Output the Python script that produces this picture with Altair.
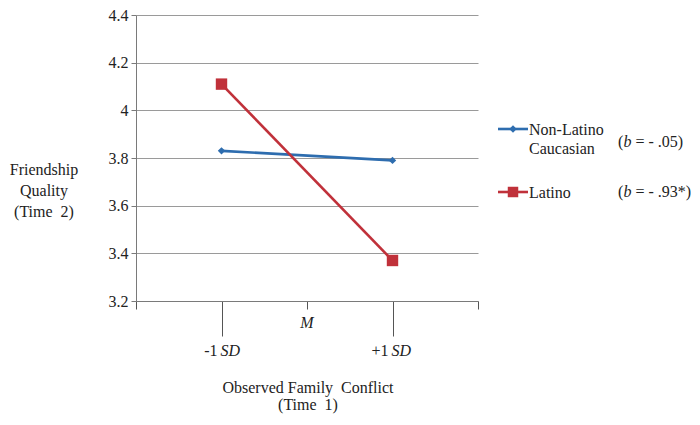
import altair as alt
import pandas as pd

# ---- data ----
levels = ["-1", "+1"]            # conflict levels (-1 SD, +1 SD)
level_pos = [1, 3]               # positions on the 0..4 category axis
mean_pos = [2]
groups = ["Non-Latino Caucasian", "Latino"]
legend_text = ["Non-Latino\nCaucasian", "Latino"]
nonlatino_vals = [3.83, 3.79]
latino_vals = [4.11, 3.37]
colors = ["#2E6DAF", "#C0313A"]
shapes = ["diamond", "square"]
b_labels = ["= - .05)", "= - .93*)"]
y_ticks = [3.2, 3.4, 3.6, 3.8, 4.0, 4.2, 4.4]
x_ticks = [0, 1, 2, 3, 4]

FONT = "Liberation Serif"
FS = 16
TXT = "#222222"

rows = []
for g, vals in zip(groups, [nonlatino_vals, latino_vals]):
    for p, v in zip(level_pos, vals):
        rows.append({"group": g, "pos": p, "value": v})
df = pd.DataFrame(rows)

xscale = alt.Scale(domain=[0, 4], nice=False, zero=False)
yscale = alt.Scale(domain=[3.2, 4.4], nice=False, zero=False)
cscale = alt.Scale(domain=groups, range=colors)
sscale = alt.Scale(domain=groups, range=shapes)

x_axis = alt.Axis(
    values=x_ticks, labels=False, title=None, grid=False,
    domainColor="#7a7a7a", tickColor="#555555",
    tickSize={"condition": {"test": "datum.value == 1 || datum.value == 3", "value": 35}, "value": 8},
)
y_axis = alt.Axis(
    values=y_ticks, format=".1~f", title=None, grid=True,
    gridColor="#9a9a9a", gridWidth=1, domainColor="#7a7a7a",
    tickColor="#7a7a7a", tickSize=5, labelPadding=3,
    labelFont=FONT, labelFontSize=FS, labelColor=TXT,
)

base = alt.Chart(df)
lines = base.mark_line(strokeWidth=2.6).encode(
    x=alt.X("pos:Q", scale=xscale, axis=x_axis),
    y=alt.Y("value:Q", scale=yscale, axis=y_axis),
    color=alt.Color("group:N", scale=cscale, legend=None),
    detail="group:N",
)
points = base.mark_point(filled=True, opacity=1).encode(
    x="pos:Q",
    y="value:Q",
    color=alt.Color("group:N", scale=cscale, legend=None),
    shape=alt.Shape("group:N", scale=sscale, legend=None),
    size=alt.Size("group:N", scale=alt.Scale(domain=groups, range=[55, 130]), legend=None),
)

# x tick labels
lab_df = pd.DataFrame({"pos": level_pos, "num": levels, "sd": ["SD", "SD"]})
num_text = alt.Chart(lab_df).mark_text(
    align="right", baseline="alphabetic", dx=-4, font=FONT, fontSize=FS, color=TXT
).encode(x="pos:Q", y=alt.value(341), text="num:N")
sd_text = alt.Chart(lab_df).mark_text(
    align="left", baseline="alphabetic", dx=-1, font=FONT, fontSize=FS,
    fontStyle="italic", color=TXT
).encode(x="pos:Q", y=alt.value(341), text="sd:N")
m_text = alt.Chart(pd.DataFrame({"pos": mean_pos, "t": ["M"]})).mark_text(
    align="center", baseline="alphabetic", font=FONT, fontSize=FS,
    fontStyle="italic", color=TXT
).encode(x="pos:Q", y=alt.value(313), text="t:N")

one = pd.DataFrame({"a": [0]})

x_title = alt.Chart(one).mark_text(
    align="center", baseline="middle", font=FONT, fontSize=FS, color=TXT,
    lineBreak="\n", lineHeight=17
).encode(x=alt.value(172), y=alt.value(373),
         text=alt.value("Observed Family\u00a0 Conflict\n(Time\u00a0 1)"))

y_title = alt.Chart(one).mark_text(
    align="center", baseline="middle", font=FONT, fontSize=FS, color=TXT,
    lineBreak="\n", lineHeight=21
).encode(x=alt.value(-92), y=alt.value(155),
         text=alt.value("Friendship\nQuality\n(Time\u00a0 2)"))

# custom legend
legend_layers = []
leg_y = [114, 177]
b_y = [127, 177]
for col, shp, lt, bl, ly, by in zip(colors, shapes, legend_text, b_labels, leg_y, b_y):
    legend_layers.append(alt.Chart(one).mark_rule(color=col, strokeWidth=2.6).encode(
        x=alt.value(362), x2=alt.value(392), y=alt.value(ly)))
    legend_layers.append(alt.Chart(one).mark_point(
        filled=True, opacity=1, color=col, shape=shp,
        size=55 if shp == "diamond" else 110).encode(x=alt.value(377), y=alt.value(ly)))
    legend_layers.append(alt.Chart(one).mark_text(
        align="left", baseline="middle", font=FONT, fontSize=FS, color=TXT,
        lineBreak="\n", lineHeight=19).encode(
        x=alt.value(393), y=alt.value(ly + 1), text=alt.value(lt)))
    legend_layers.append(alt.Chart(one).mark_text(
        align="left", baseline="middle", font=FONT, fontSize=FS, color=TXT).encode(
        x=alt.value(482), y=alt.value(by), text=alt.value("(")))
    legend_layers.append(alt.Chart(one).mark_text(
        align="left", baseline="middle", font=FONT, fontSize=FS, color=TXT,
        fontStyle="italic").encode(
        x=alt.value(487.5), y=alt.value(by), text=alt.value("b")))
    legend_layers.append(alt.Chart(one).mark_text(
        align="left", baseline="middle", font=FONT, fontSize=FS, color=TXT).encode(
        x=alt.value(499.5), y=alt.value(by), text=alt.value(bl)))

chart = alt.layer(
    lines, points, num_text, sd_text, m_text, x_title, y_title, *legend_layers
).properties(
    width=342, height=286,
    autosize=alt.AutoSizeParams(type="none"),
    padding={"left": 128, "top": 7, "right": 213, "bottom": 115},
    background="white",
).configure_view(stroke=None)

chart.save("out.html", embed_options={"renderer": "svg", "actions": False})
